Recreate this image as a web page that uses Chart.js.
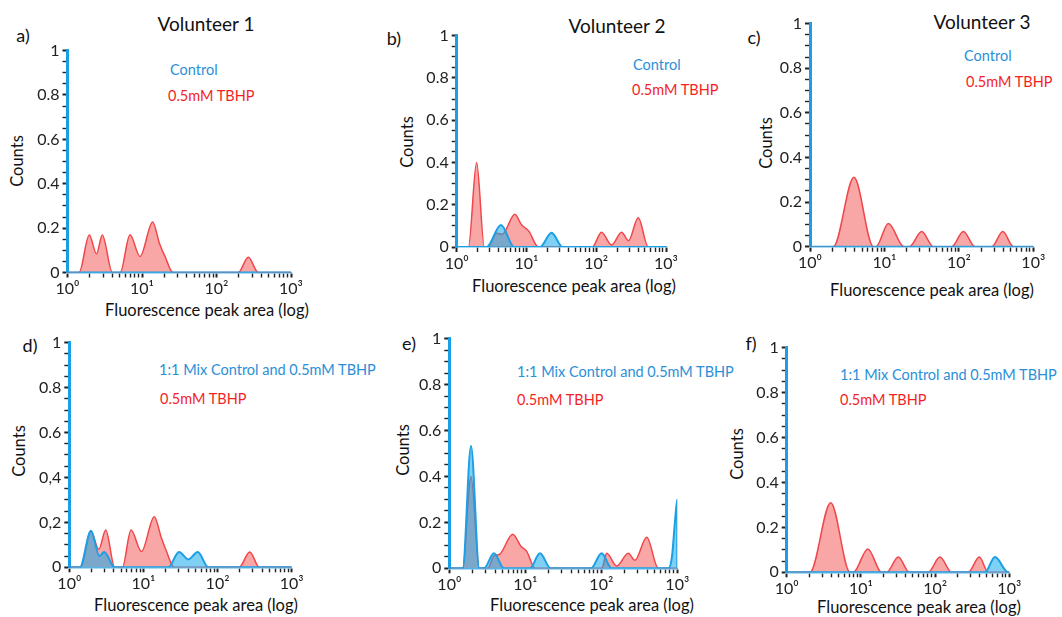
<!DOCTYPE html>
<html><head><meta charset="utf-8">
<script src="https://cdn.jsdelivr.net/npm/chart.js@4.4.0/dist/chart.umd.min.js"></script>
<style>
html,body{margin:0;padding:0;background:#fff;}
#wrap{position:relative;width:1062px;height:617px;overflow:hidden;font-family:Lato,'Open Sans',sans-serif;}
canvas{position:absolute;}
.t{position:absolute;white-space:nowrap;line-height:1;}
.c{transform:translate(-50%,-50%);}
.l{transform:translateY(-50%);}
.r{transform:translate(-50%,-50%) rotate(-90deg);}
.title{font-size:19px;color:#111;}
.pl{font-size:18px;color:#111;}
.blue{font-size:14.5px;color:#2b8fd8;}
.red{font-size:14.5px;color:#f41f1f;}
.ax{font-size:16.5px;color:#111;}
</style></head><body><div id="wrap">
<div class="t c title" style="left:206px;top:23px">Volunteer 1</div>
<div class="t c title" style="left:617px;top:25px">Volunteer 2</div>
<div class="t c title" style="left:982px;top:21px">Volunteer 3</div>
<div class="t c pl" style="left:23px;top:35px">a)</div>
<div class="t c pl" style="left:394px;top:38px">b)</div>
<div class="t c pl" style="left:754px;top:37px">c)</div>
<div class="t c pl" style="left:30px;top:345px">d)</div>
<div class="t c pl" style="left:409px;top:343px">e)</div>
<div class="t c pl" style="left:751px;top:343px">f)</div>
<div class="t l blue" style="left:170px;top:70px">Control</div>
<div class="t l red" style="left:168px;top:96px">0.5mM TBHP</div>
<div class="t l blue" style="left:633px;top:65px">Control</div>
<div class="t l red" style="left:632px;top:90px">0.5mM TBHP</div>
<div class="t l blue" style="left:964px;top:56px">Control</div>
<div class="t l red" style="left:966px;top:82px">0.5mM TBHP</div>
<div class="t l blue" style="left:159px;top:370px">1:1 Mix Control and 0.5mM TBHP</div>
<div class="t l red" style="left:160px;top:399px">0.5mM TBHP</div>
<div class="t l blue" style="left:517px;top:372px">1:1 Mix Control and 0.5mM TBHP</div>
<div class="t l red" style="left:517px;top:400px">0.5mM TBHP</div>
<div class="t l blue" style="left:840px;top:375px">1:1 Mix Control and 0.5mM TBHP</div>
<div class="t l red" style="left:840px;top:400px">0.5mM TBHP</div>
<div class="t c ax" style="left:207px;top:310px">Fluorescence peak area (log)</div>
<div class="t c ax" style="left:574px;top:286px">Fluorescence peak area (log)</div>
<div class="t c ax" style="left:932px;top:290px">Fluorescence peak area (log)</div>
<div class="t c ax" style="left:196px;top:605px">Fluorescence peak area (log)</div>
<div class="t c ax" style="left:592px;top:605px">Fluorescence peak area (log)</div>
<div class="t c ax" style="left:919px;top:607px">Fluorescence peak area (log)</div>
<div class="t r ax" style="left:17px;top:161px">Counts</div>
<div class="t r ax" style="left:407px;top:142px">Counts</div>
<div class="t r ax" style="left:766px;top:143px">Counts</div>
<div class="t r ax" style="left:19px;top:451px">Counts</div>
<div class="t r ax" style="left:403px;top:450px">Counts</div>
<div class="t r ax" style="left:737px;top:454px">Counts</div>
</div>
<script>
// ---- tick labels ----
const yTickLabels = ['0','0.2','0.4','0.6','0.8','1'];
const yTickLabelsD = ['0','0,2','0,4','0.6','0.8','1'];
const xDecades = [1,10,100,1000];
const xTickLabels = ['10\u2070','10\u00b9','10\u00b2','10\u00b3'];

// ---- data: [x, counts] ----
const aControl = [[1,0],[1000,0]];
const aTbhp = [[1,0],[1.43,0],[1.96,0.169],[2.45,0.084],[2.93,0.169],[4.0,0],[5.1,0],[6.9,0.17],[9.4,0.072],[13.9,0.228],[17.2,0.13],[20.5,0.07],[26,0],[196,0],[267,0.069],[364,0],[1000,0]];

const bControl = [[1,0],[2.69,0],[4.31,0.104],[6.68,0],[15.6,0],[22.9,0.067],[33,0],[1000,0]];
const bTbhp = [[1,0],[1.47,0],[1.93,0.40],[2.49,0],[2.78,0],[3.74,0.065],[4.5,0.06],[6.8,0.155],[8.5,0.105],[10.8,0.075],[14.8,0],[88,0],[119,0.07],[166,0.01],[231,0.07],[290,0.03],[400,0.138],[556,0],[1000,0]];

const cControl = [[1,0],[1000,0]];
const cTbhp = [[1,0],[2.06,0],[3.9,0.311],[7.1,0],[7.7,0],[11.3,0.104],[18.3,0],[21.6,0],[31.7,0.068],[45.4,0],[80,0],[115,0.068],[165,0],[277,0],[389,0.068],[541,0],[1000,0]];

const dMix = [[1,0],[1.39,0],[1.96,0.163],[2.55,0.05],[2.95,0.068],[4.1,0],[21.7,0],[30.2,0.068],[40.4,0.035],[54,0.068],[75,0],[1000,0]];
const dTbhp = [[1,0],[1.42,0],[1.96,0.16],[2.5,0.08],[3.1,0.166],[4.1,0],[5.2,0],[6.8,0.166],[9.4,0.07],[14,0.225],[17.5,0.13],[20.5,0.07],[26,0],[195,0],[272,0.068],[365,0],[1000,0]];

const eMix = [[1,0],[1.5,0],[1.93,0.532],[2.48,0],[2.86,0],[3.87,0.065],[5.25,0],[11.5,0],[15.6,0.065],[21.6,0],[73,0],[101,0.065],[137,0],[762,0],[850,0.05],[930,0.2],[1000,0.30],[1000,0]];
const eTbhp = [[1,0],[1.5,0],[1.93,0.40],[2.48,0],[3.2,0],[3.9,0.055],[4.55,0.06],[6.82,0.148],[8.8,0.095],[10.4,0.075],[13.4,0],[101,0],[118,0.065],[159,0.01],[227,0.065],[277,0.035],[396,0.135],[562,0],[1000,0]];

const fMix = [[1,0],[470,0],[641,0.068],[970,0],[1000,0]];
const fTbhp = [[1,0],[2.06,0],[3.92,0.31],[7.13,0],[7.9,0],[12.4,0.104],[19,0],[22.3,0],[31.9,0.068],[44.9,0],[81,0],[116,0.068],[167,0],[280,0],[394,0.068],[521,0],[1000,0]];

// ---- panel layout: chart area [left, top, right, bottom] in page px ----
const panels = [
  {area:[67.5,49.5,291,272.5], yLabels:yTickLabels, blue:aControl, red:aTbhp},
  {area:[456.7,34.5,666,247], yLabels:yTickLabels, blue:bControl, red:bTbhp},
  {area:[810,22.5,1033.3,246.7], yLabels:yTickLabels, blue:cControl, red:cTbhp},
  {area:[69.3,341.5,291.7,567.3], yLabels:yTickLabelsD, blue:dMix, red:dTbhp},
  {area:[449.3,338.3,677.3,568.3], yLabels:yTickLabels, blue:eMix, red:eTbhp},
  {area:[786.7,347,1009.3,572.3], yLabels:yTickLabels, blue:fMix, red:fTbhp}
];

const YW = 60, XH = 30, PT = 12, PR = 18;
const xTickValues = [];
for (const d of xDecades.slice(0,3)) for (let k=1;k<=9;k++) xTickValues.push(d*k);
xTickValues.push(1000);
const isDecade = v => xDecades.some(d => Math.abs(v-d) < 1e-9);

const toPts = arr => arr.map(p => ({x:p[0], y:p[1]}));

panels.forEach(p => {
  const [L,T,R,B] = p.area;
  const cl = Math.round(L - YW), ct = Math.round(T - PT);
  const cw = Math.round(R + PR) - cl, ch = Math.round(B + XH) - ct;
  const cv = document.createElement('canvas');
  cv.width = cw; cv.height = ch;
  cv.style.left = cl + 'px'; cv.style.top = ct + 'px';
  cv.style.width = cw + 'px'; cv.style.height = ch + 'px';
  document.getElementById('wrap').appendChild(cv);
  const yw = L - cl, xh = ct + ch - B, pt = T - ct, pr = cl + cw - R;
  new Chart(cv, {
    type:'line',
    data:{datasets:[
      {data:toPts(p.blue), borderColor:'#1c9fe4', backgroundColor:'rgba(20,170,235,0.55)', borderWidth:2, fill:'origin', pointRadius:0, cubicInterpolationMode:'monotone'},
      {data:toPts(p.red), borderColor:'#f0474b', backgroundColor:'rgba(240,70,70,0.48)', borderWidth:1.5, fill:'origin', pointRadius:0, cubicInterpolationMode:'monotone'}
    ]},
    options:{
      responsive:false, animation:false, devicePixelRatio:1,
      layout:{padding:{top:pt, right:pr, left:0, bottom:0}},
      plugins:{legend:{display:false}, tooltip:{enabled:false}},
      scales:{
        x:{type:'logarithmic', min:1, max:1000,
          afterFit:s => { s.height = xh; },
          afterBuildTicks:s => { s.ticks = xTickValues.map(v => ({value:v})); },
          border:{color:'#55b8ea', width:1.5},
          grid:{drawOnChartArea:false, drawTicks:true, tickLength:5, tickColor:'#222',
            tickWidth:ctx => (ctx.tick && isDecade(ctx.tick.value)) ? 2 : 1.4},
          ticks:{autoSkip:false, maxRotation:0, padding:2, color:'#222', font:{family:'Lato', size:16},
            callback:v => { const i = xDecades.findIndex(d => Math.abs(v-d) < 1e-9); return i >= 0 ? xTickLabels[i] : ''; }}
        },
        y:{type:'linear', min:0, max:1,
          afterFit:s => { s.width = yw; },
          border:{color:'#1a9fe6', width:3},
          grid:{drawOnChartArea:false, drawTicks:true, tickLength:5, tickColor:'#222',
            tickWidth:ctx => { const v = ctx.tick ? ctx.tick.value : 0; return Math.abs(v*5 - Math.round(v*5)) < 1e-6 ? 2 : 1.4; }},
          ticks:{stepSize:0.05, autoSkip:false, padding:3, color:'#222', font:{family:'Lato', size:16},
            callback:v => { const i = Math.round(v*5); return Math.abs(v*5 - i) < 1e-6 ? p.yLabels[i] : ''; }}
        }
      }
    }
  });
});
</script>
</body></html>
